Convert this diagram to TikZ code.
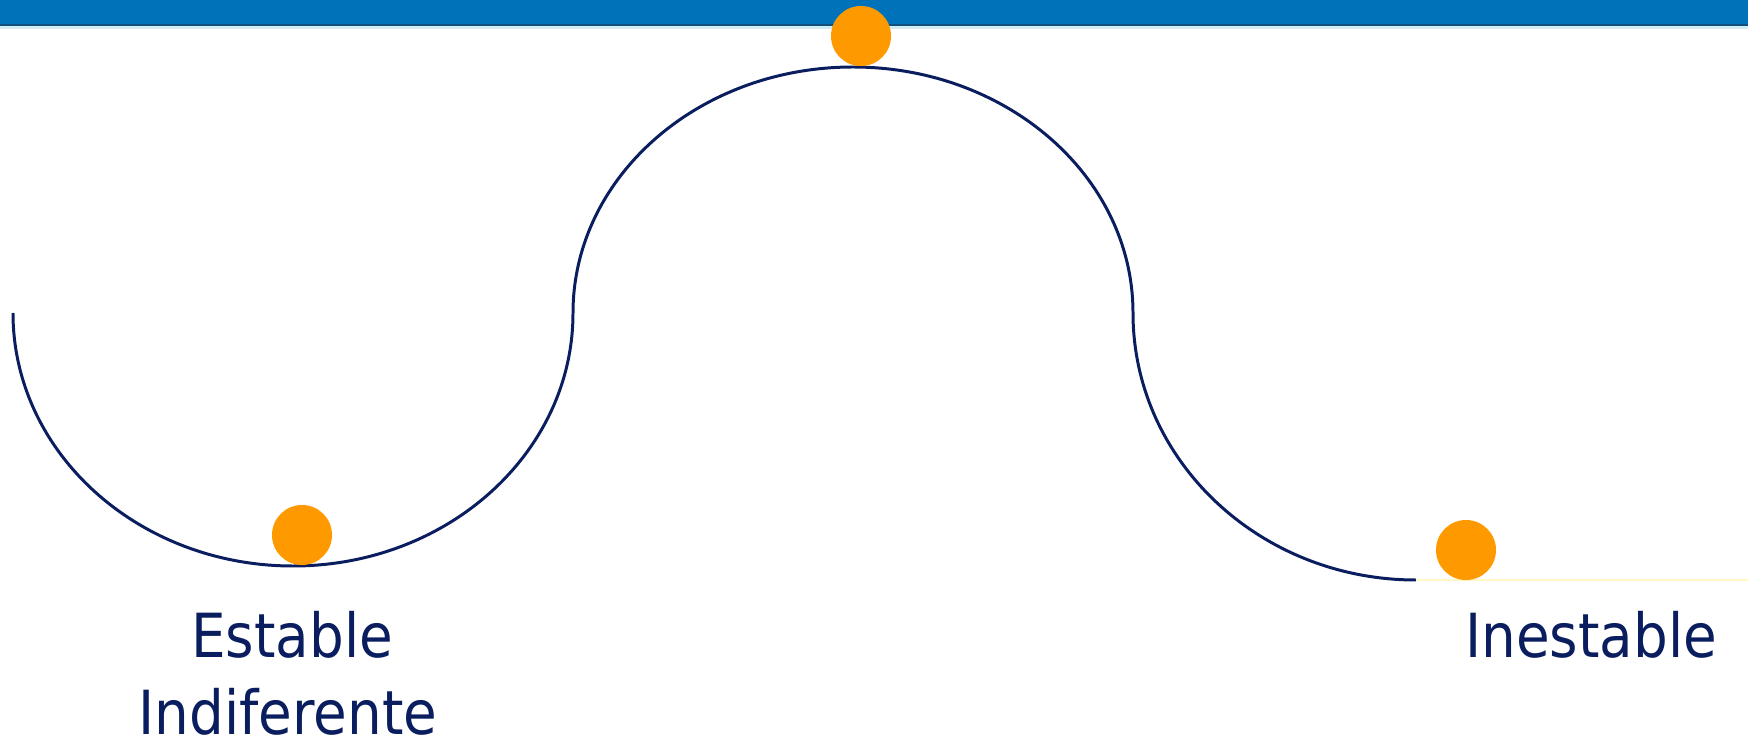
\documentclass[tikz,border=0pt]{standalone}
\usepackage{fontspec}
\usepackage{xcolor}
\usepackage{tikz}
\setmainfont[FakeStretch=0.9]{DejaVu Sans}
\definecolor{barBlue}{RGB}{0, 114, 186}
\definecolor{barEdge}{RGB}{20, 80, 125}
\definecolor{barGlow}{RGB}{210, 236, 245}
\definecolor{trackNavy}{RGB}{10, 30, 95}
\definecolor{ballOrange}{RGB}{255, 153, 0}
\definecolor{groundYellow}{RGB}{255, 248, 195}

\tikzset{
  ball/.style={circle, fill=ballOrange, inner sep=0pt, minimum size=0.6cm},
  caption/.style={anchor=base, inner sep=0pt, text depth=0pt, text=trackNavy, font=\fontsize{17.3}{20}\selectfont}
}

\begin{document}
\begin{tikzpicture}[x=0.01cm, y=0.01cm]
        \useasboundingbox (0,0) rectangle (1748,742);
        % header bar
        \fill[barBlue] (0,742) rectangle (1748,716);
        \fill[barEdge] (0,717.5) rectangle (1748,716);
        \fill[barGlow] (0,716) rectangle (1748,713);
        % track: valley, hill, slope
        \coordinate (trkStart) at (13,429);
        \draw[trackNavy, line width=0.85pt] (trkStart)
            arc (180:360:280 and 253)
            arc (180:0:280 and 246)
            arc (180:270:283 and 267) coordinate (trkEnd);
        \coordinate (grEnd) at (1748,162);
        \draw[groundYellow, line width=0.85pt] (trkEnd) -- (grEnd);
        % balls
        \node[ball] (bValley) at (302,207) {};
        \node[ball] (bTop) at (861,706) {};
        \node[ball] (bFlat) at (1466,192) {};
        % labels
        \node[caption] (lEst) at (292,84) {Estable};
        \node[caption] (lInd) at (288,8) {Indiferente};
        \node[caption] (lIne) at (1591,84) {Inestable};
    \end{tikzpicture}
\end{document}
